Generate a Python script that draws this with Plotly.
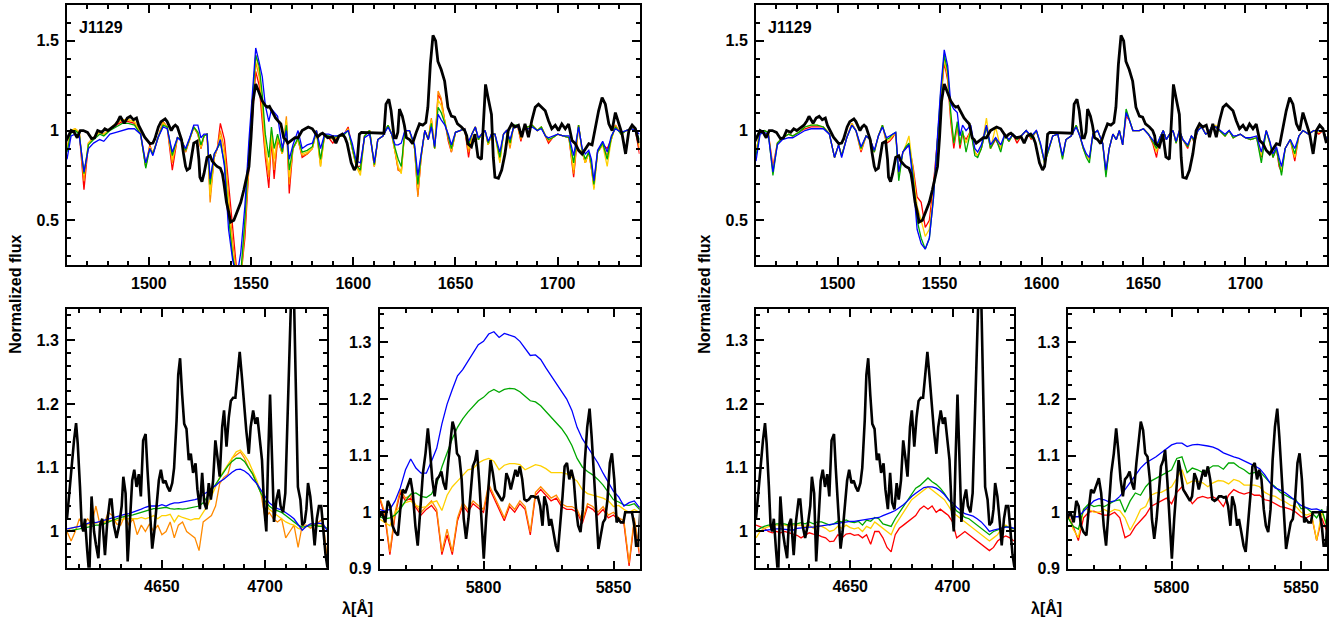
import plotly.graph_objects as go

W, H = 1344, 632

# ---------------- DATA ----------------
# --- UV panel (top), observed spectrum ---
TOP_OBS_WL = [
    1459.0, 1460.5, 1462, 1463.5, 1465, 1466.5, 1468, 1470, 1472, 1473.5,
    1475, 1477, 1478.5, 1480, 1482, 1483.5, 1485, 1486, 1487, 1488,
    1489.5, 1491, 1492.5, 1494, 1495, 1496.5, 1498, 1500.6, 1502, 1503,
    1504.7, 1506, 1507, 1508, 1509, 1510, 1511, 1512, 1513, 1514,
    1515, 1516, 1517, 1518, 1518.7, 1520, 1521, 1522, 1523.6, 1524.5,
    1525, 1526, 1527, 1528.5, 1530, 1531, 1532.5, 1533.4, 1535, 1536,
    1536.7, 1538, 1539, 1540, 1541.6, 1543, 1544, 1545, 1546.5, 1548,
    1549, 1550, 1551, 1552.3, 1553, 1554, 1555.5, 1557, 1558, 1559,
    1560.5, 1562, 1563.5, 1564.6, 1566, 1567, 1568, 1570, 1571.5, 1573,
    1575, 1576.5, 1578, 1580, 1581, 1582.6, 1584, 1585, 1587.5, 1590,
    1591.5, 1593, 1594.7, 1596, 1597, 1599, 1600.5, 1601.5, 1602, 1603,
    1604, 1615, 1616, 1617.4, 1618.5, 1620, 1621, 1621.8, 1622.6, 1624,
    1625, 1626, 1627.5, 1629, 1630.8, 1632.4, 1634, 1635.5, 1636.5, 1637.7,
    1639, 1640.3, 1641.4, 1643, 1644.7, 1645.5, 1646.3, 1648, 1649.6, 1651,
    1652.9, 1654.5, 1655.5, 1656, 1657.8, 1659.5, 1661, 1662.7, 1663.9, 1664.7,
    1666, 1667.6, 1668.5, 1669.3, 1671, 1672.6, 1674.2, 1675.8, 1677.5, 1679,
    1680.8, 1682.4, 1684, 1685.7, 1687.3, 1689, 1690.6, 1692.2, 1693.9, 1695.5,
    1697.1, 1698.8, 1700.4, 1702, 1703.7, 1705.3, 1707, 1708.6, 1710.2, 1711.9,
    1713.5, 1715.2, 1716.8, 1718.4, 1720, 1721.7, 1723.3, 1725, 1726.6, 1728.2,
    1729.9, 1731.5, 1733.2, 1734.8, 1736.4, 1738, 1739.7,
]
TOP_OBS_FLUX = [
    .93, .97, 1.0, .99, .96, 1.0, 1.0, .99, .955, .96,
    1.0, .99, 1.01, 1.0, 1.02, 1.03, 1.055, 1.08, 1.06, 1.04,
    1.07, 1.08, 1.06, 1.07, 1.03, 1.0, .963, .927, .93, .955,
    1.02, 1.05, 1.06, 1.065, 1.05, 1.02, 1.0, 1.02, 1.03, 1.02,
    .99, .95, .87, .80, .78, .79, .86, .93, .94, .84,
    .74, .715, .76, .85, .86, .83, .81, .80, .79, .76,
    .71, .60, .55, .49, .50, .54, .57, .60, .67, .74,
    .80, .96, 1.165, 1.26, 1.24, 1.21, 1.165, 1.14, 1.13, 1.135,
    1.10, 1.07, 1.05, 1.037, .96, .95, .93, .95, .96, .96,
    1.0, 1.01, 1.02, 1.01, .99, .965, .98, .985, .96, .965,
    .93, .97, .98, .96, .93, .82, .78, .80, .84, .98,
    .99, .985, 1.147, 1.175, 1.11, .96, .96, .99, 1.12, 1.08,
    1.03, .96, .95, .927, .99, 1.037, 1.03, 1.045, 1.13, 1.367,
    1.53, 1.50, 1.385, 1.34, 1.275, 1.2, 1.13, 1.08, 1.075, 1.037,
    1.02, 1.0, .97, .927, .91, .98, .853, .84, 1.11, 1.257,
    1.18, 1.09, .85, .74, .734, .78, .87, 1.0, 1.037, 1.02,
    1.03, .963, 1.037, .963, 1.055, 1.13, 1.147, 1.13, 1.11, 1.055,
    1.01, 1.03, 1.0, 1.037, 1.01, 1.037, .945, .927, .89, .87,
    .9, .927, .92, 1.02, 1.11, 1.183, 1.147, 1.037, 1.0, 1.10,
    1.037, .98, .87, 1.0, 1.03, 1.01, .93,
]

# --- UV panel, model wavelength grid ---
TOP_MODEL_WL = [
    1460, 1462, 1464, 1466, 1468.3, 1470.5, 1473, 1476, 1478, 1481,
    1484, 1487, 1490, 1493, 1496, 1498.5, 1500.5, 1502, 1504.5, 1507,
    1509, 1511.5, 1514, 1516, 1518, 1520, 1522, 1524, 1525.5, 1527,
    1528.5, 1530, 1532, 1533.5, 1535, 1537, 1539, 1541, 1543, 1545,
    1547, 1549, 1550.5, 1552.3, 1554, 1555.5, 1557, 1558.7, 1560, 1561.3,
    1563, 1565.3, 1567.3, 1568.7, 1570.5, 1573, 1575, 1577.5, 1580, 1582,
    1584, 1586, 1588, 1590, 1592.5, 1595, 1597.5, 1599.5, 1601.5, 1603.5,
    1605.5, 1608, 1610.3, 1612, 1614.5, 1617, 1618.8, 1620.5, 1622, 1623.5,
    1625.2, 1627.5, 1630, 1631.6, 1633.2, 1635, 1636.7, 1638.2, 1639.8, 1641.5,
    1643, 1644.8, 1646.5, 1648, 1650, 1652.5, 1654.5, 1656.4, 1658, 1659.7,
    1661.2, 1662.8, 1664.5, 1666, 1667.6, 1669.3, 1671.7, 1673.5, 1675, 1676.7,
    1678.5, 1680.5, 1682, 1683.5, 1685.5, 1687.5, 1690, 1692, 1694, 1695.5,
    1697.5, 1700, 1702.5, 1705.5, 1707.8, 1710.2, 1712, 1713.5, 1715.2, 1716.5,
    1717.7, 1719.5, 1722, 1724.2, 1726.2, 1728.2, 1731, 1733.5, 1736, 1738,
    1740,
]

# left half, UV models
TL_RED = [
    .90, 1.0, 1.0, .99, .67, .93, .96, .99, .98, 1.01,
    1.03, 1.05, 1.05, 1.04, .98, .80, .92, .87, .96, 1.05,
    1.02, .78, .96, .95, .88, .95, 1.02, .98, .90, .97,
    .98, .64, .85, .90, 1.04, .95, .70, .45, .22, .18,
    .40, .80, 1.05, 1.33, 1.25, 1.05, .85, .68, .95, .73,
    .95, .87, 1.05, .65, .90, .95, .85, .87, .90, 1.0,
    .82, .98, .96, .93, .97, .97, 1.02, .90, .80, .80,
    .97, 1.0, .80, .95, .97, 1.03, .98, .88, .78, .77,
    1.0, 1.0, .90, .64, .85, 1.0, .95, 1.06, .90, 1.20,
    1.17, 1.05, .94, .88, .99, 1.0, 1.01, .85, .98, 1.02,
    .95, .98, 1.0, .92, .98, .98, .85, .98, 1.0, .92,
    1.03, 1.02, .94, 1.02, 1.02, 1.03, 1.0, 1.02, .97, .93,
    .96, .98, .97, .96, .74, 1.03, .88, .82, .88, .78,
    .70, .88, .92, .90, .95, 1.03, .98, 1.0, 1.01, 1.0,
    .87,
]
TL_ORANGE = [
    .90, 1.0, 1.01, .99, .72, .93, .96, .99, .98, 1.01,
    1.04, 1.06, 1.06, 1.05, .98, .80, .91, .87, .96, 1.05,
    1.02, .82, .96, .95, .88, .95, 1.02, .98, .90, .97,
    .98, .60, .85, .90, 1.0, .90, .62, .38, .20, .18,
    .45, .85, 1.10, 1.38, 1.30, 1.10, .88, .74, .97, .78,
    .96, .87, 1.08, .70, .90, .95, .86, .87, .90, 1.0,
    .80, .98, .97, .95, .97, .97, 1.01, .90, .80, .77,
    .97, 1.0, .80, .95, .97, 1.03, .98, .88, .78, .78,
    1.0, 1.0, .90, .63, .85, 1.0, .95, 1.07, .90, 1.22,
    1.18, 1.05, .96, .88, .99, 1.0, 1.01, .88, .98, 1.02,
    .95, .98, 1.0, .92, .98, .98, .83, .98, 1.0, .90,
    1.03, 1.02, .95, 1.02, 1.02, 1.03, 1.0, 1.02, .97, .94,
    .96, .98, .97, .96, .76, 1.03, .88, .82, .88, .79,
    .68, .88, .92, .86, .95, 1.03, .98, 1.0, 1.01, 1.0,
    .90,
]
TL_YELLOW = [
    .90, 1.0, 1.01, .99, .75, .93, .96, .99, .98, 1.01,
    1.04, 1.06, 1.06, 1.05, .98, .81, .91, .87, .96, 1.04,
    1.02, .84, .96, .95, .89, .95, 1.02, .99, .91, .97,
    .98, .64, .86, .90, .97, .86, .58, .32, .19, .18,
    .48, .88, 1.12, 1.42, 1.33, 1.15, .92, .78, 1.0, .84,
    .97, .87, 1.06, .74, .90, .95, .87, .88, .90, 1.0,
    .80, .98, .97, .95, .97, .97, 1.01, .90, .80, .75,
    .97, 1.0, .80, .95, .97, 1.03, .98, .88, .80, .76,
    1.0, 1.0, .90, .68, .86, 1.0, .95, 1.06, .90, 1.17,
    1.14, 1.05, .96, .89, .99, 1.0, 1.01, .90, .98, 1.02,
    .95, .98, 1.0, .92, .98, .98, .82, .98, 1.0, .92,
    1.03, 1.02, .96, 1.02, 1.02, 1.03, 1.0, 1.02, .97, .95,
    .96, .98, .97, .96, .78, 1.03, .88, .82, .88, .79,
    .67, .88, .92, .80, .95, 1.02, .98, 1.0, 1.01, 1.0,
    .92,
]
TL_GREEN = [
    .88, .99, 1.0, .98, .76, .92, .95, .98, .97, 1.0,
    1.02, 1.04, 1.04, 1.03, .98, .79, .90, .87, .96, 1.03,
    1.02, .86, .96, .95, .89, .95, 1.02, .99, .92, .97,
    .98, .70, .87, .90, .93, .82, .52, .30, .18, .20,
    .50, .90, 1.15, 1.42, 1.36, 1.20, .98, .85, 1.02, .90,
    .98, .88, 1.03, .78, .90, .96, .88, .89, .91, 1.0,
    .84, .98, .97, .96, .97, .97, 1.0, .91, .81, .78,
    .97, 1.0, .81, .95, .97, 1.03, .98, .90, .84, .80,
    1.0, 1.0, .91, .70, .86, 1.0, .95, 1.04, .90, 1.13,
    1.10, 1.04, .97, .90, .99, 1.0, 1.01, .92, .98, 1.02,
    .95, .98, 1.0, .93, .98, .98, .85, .98, 1.0, .93,
    1.03, 1.03, .97, 1.02, 1.02, 1.03, 1.0, 1.02, .97, .95,
    .96, .98, .97, .96, .82, 1.03, .89, .84, .88, .81,
    .70, .88, .93, .84, .96, 1.02, .98, 1.0, 1.01, 1.0,
    .95,
]
TL_BLUE = [
    .84, .97, .98, .97, .77, .90, .93, .95, .94, .98,
    .99, 1.0, 1.01, 1.01, .98, .82, .90, .86, .96, 1.02,
    1.01, .88, .96, .94, .90, .96, 1.03, 1.03, .96, .98,
    .98, .73, .87, .90, .95, .80, .45, .28, .18, .32,
    .58, .95, 1.20, 1.46, 1.38, 1.30, 1.14, 1.05, 1.12, 1.10,
    1.08, .90, 1.0, .84, .92, 1.0, .90, .92, .93, 1.0,
    .90, .98, .98, .97, .97, .98, 1.0, .93, .83, .82,
    .96, .98, .82, .95, .97, 1.02, .98, .92, .92, .93,
    1.0, 1.0, .92, .75, .88, 1.0, .95, 1.02, .91, 1.09,
    1.06, 1.03, .98, .92, .99, 1.0, 1.01, .94, .98, 1.02,
    .96, .98, 1.0, .94, .98, .98, .88, .98, 1.0, .95,
    1.02, 1.02, .98, 1.01, 1.01, 1.02, 1.0, 1.01, .97, .96,
    .97, .98, .97, .97, .86, 1.02, .90, .87, .89, .84,
    .72, .89, .94, .88, .97, 1.01, .99, 1.0, 1.01, 1.0,
    .98,
]

# right half, UV models
TR_RED = [
    .88, 1.0, 1.0, .99, .80, .93, .96, .98, .97, .99,
    1.01, 1.02, 1.02, 1.02, .98, .85, .92, .86, .96, 1.04,
    1.0, .88, .97, .95, .88, .97, 1.03, .93, .94, .96,
    .99, .75, .88, .90, .92, .80, .63, .60, .46, .50,
    .70, .95, 1.15, 1.38, 1.28, 1.05, .90, 1.03, .90, .98,
    .95, 1.0, .88, .86, .90, 1.02, .90, .95, .90, .98,
    .94, .98, .93, .97, 1.0, .95, 1.0, .92, .82, .89,
    .97, .98, .85, .95, .97, 1.03, .97, .90, .86, .84,
    .98, 1.0, .93, .76, .90, .98, .95, 1.0, .92, 1.08,
    1.06, 1.0, 1.0, 1.0, 1.01, .98, .93, .85, .96, 1.0,
    .95, .98, 1.0, .93, 1.0, .95, .90, .97, .93, 1.0,
    1.03, .98, .99, 1.02, 1.02, 1.0, .97, 1.0, .96, .97,
    .98, .96, .95, .96, .85, 1.0, .93, .85, .90, .80,
    .77, .90, .95, .83, .97, 1.0, .98, 1.0, .98, 1.0,
    .95,
]
TR_YELLOW = [
    .88, 1.0, 1.0, .99, .78, .93, .96, .98, .97, .99,
    1.02, 1.03, 1.03, 1.02, .98, .85, .92, .86, .96, 1.04,
    1.0, .89, .97, .95, .88, .97, 1.03, .94, .95, .97,
    .99, .74, .88, .92, .97, .78, .58, .50, .41, .45,
    .65, .95, 1.17, 1.40, 1.30, 1.08, .93, 1.03, .92, .99,
    .93, 1.0, .88, .86, .90, 1.07, .90, 1.02, .90, .98,
    .94, .98, .95, .97, 1.0, .96, 1.0, .92, .82, .89,
    .97, .98, .85, .95, .97, 1.03, .97, .90, .86, .84,
    .98, 1.0, .93, .76, .90, .98, .95, 1.0, .92, 1.10,
    1.06, 1.0, 1.0, 1.0, 1.01, .98, .94, .88, .96, 1.0,
    .95, .98, 1.0, .93, 1.0, .95, .91, .97, .94, 1.0,
    1.03, .98, .99, 1.02, 1.03, 1.0, .97, 1.0, .96, .97,
    .98, .96, .95, .96, .86, 1.0, .93, .86, .90, .82,
    .77, .90, .95, .85, .97, 1.0, .98, 1.0, .99, 1.0,
    .95,
]
TR_GREEN = [
    .86, .99, 1.0, .99, .75, .93, .96, .98, .97, .99,
    1.02, 1.03, 1.03, 1.02, .98, .85, .92, .86, .96, 1.03,
    1.0, .90, .97, .95, .88, .97, 1.03, .95, .96, .98,
    .99, .72, .88, .91, .93, .75, .50, .40, .34, .40,
    .62, .95, 1.20, 1.42, 1.33, 1.10, .93, 1.05, .92, 1.0,
    .88, 1.0, .86, .85, .90, 1.02, .90, .96, .88, .98,
    .94, .98, .95, .97, 1.0, .96, 1.0, .92, .82, .89,
    .97, .98, .84, .95, .97, 1.03, .97, .90, .85, .82,
    .98, 1.0, .93, .74, .90, .98, .95, 1.0, .92, 1.12,
    1.07, 1.0, 1.0, 1.0, 1.01, .98, .94, .90, .96, 1.0,
    .95, .98, 1.0, .93, 1.0, .95, .91, .97, .94, 1.0,
    1.02, .98, .99, 1.02, 1.02, 1.0, .97, 1.0, .96, .97,
    .98, .96, .95, .96, .82, 1.0, .93, .85, .90, .82,
    .75, .90, .95, .87, .97, 1.0, .98, 1.0, 1.0, 1.0,
    .95,
]
TR_BLUE = [
    .83, .98, .99, .98, .77, .92, .95, .96, .96, .98,
    1.0, 1.01, 1.01, 1.01, .98, .85, .92, .85, .96, 1.03,
    1.0, .91, .97, .95, .89, .97, 1.02, .96, .97, .98,
    .99, .77, .88, .90, .92, .72, .45, .37, .34, .40,
    .62, .97, 1.22, 1.45, 1.36, 1.15, 1.12, 1.10, .97, 1.03,
    1.0, 1.03, .90, .88, .92, 1.03, .92, .96, .92, .98,
    .95, .98, .96, .97, 1.0, .97, 1.0, .93, .83, .90,
    .97, .98, .86, .95, .97, 1.02, .97, .91, .87, .85,
    .98, 1.0, .93, .78, .90, .98, .95, 1.0, .92, 1.10,
    1.06, 1.0, 1.0, 1.0, 1.01, .98, .95, .92, .96, 1.0,
    .95, .98, 1.0, .94, 1.0, .95, .92, .97, .95, 1.0,
    1.02, .98, .99, 1.02, 1.02, 1.0, .98, 1.0, .97, .97,
    .98, .96, .96, .97, .88, 1.0, .94, .87, .91, .85,
    .80, .90, .95, .90, .97, 1.0, .98, 1.0, 1.0, 1.0,
    .95,
]

# --- He II 4686 panel, observed ---
HE_OBS_WL = [
    4604.0, 4605.0, 4606.3, 4607.4, 4608.4, 4609.2, 4610.3, 4611.1, 4611.9, 4612.7,
    4613.8, 4614.8, 4615.9, 4617.1, 4618.0, 4619.2, 4620.0, 4621.1, 4622.4, 4623.5,
    4624.8, 4625.6, 4626.7, 4628.0, 4629.3, 4630.5, 4631.3, 4632.4, 4633.4, 4634.5,
    4635.6, 4636.6, 4637.7, 4638.8, 4639.8, 4640.9, 4642.1, 4643.0, 4644.2, 4645.3,
    4646.3, 4647.4, 4648.5, 4649.5, 4650.6, 4651.7, 4652.7, 4653.8, 4655.0, 4655.9,
    4657.1, 4657.9, 4658.8, 4659.8, 4660.8, 4661.9, 4663.0, 4664.0, 4665.1, 4666.3,
    4667.2, 4668.4, 4669.5, 4670.5, 4671.6, 4672.7, 4673.7, 4674.8, 4675.9, 4676.9,
    4678.0, 4679.2, 4680.1, 4681.3, 4682.4, 4683.4, 4684.5, 4685.6, 4686.6, 4687.7,
    4688.8, 4689.8, 4690.9, 4692.1, 4693.0, 4694.2, 4695.3, 4696.3, 4697.4, 4698.5,
    4699.5, 4700.6, 4701.4, 4702.4, 4703.4, 4704.3, 4705.5, 4706.6, 4707.5, 4708.7,
    4709.8, 4710.8, 4711.9, 4712.9, 4713.8, 4714.8, 4715.9, 4717.1, 4718.0, 4719.2,
    4720.0, 4720.8, 4721.9, 4722.9, 4724.0, 4725.1, 4726.1, 4727.2, 4728.4, 4729.3,
    4730.4,
]
HE_OBS_FLUX = [
    1.02, 1.06, 1.11, 1.143, 1.17, 1.138, 1.07, 1.01, 1.0, 1.02,
    .97, .93, 1.055, 1.0, .98, .958, 1.01, 1.02, .963, 1.015,
    1.05, 1.05, 1.01, .99, 1.01, 1.04, 1.086, 1.06, .953, 1.01,
    1.08, 1.097, 1.07, 1.09, 1.055, 1.143, 1.153, 1.097, 1.04, .973,
    1.0, 1.04, 1.08, 1.097, 1.076, 1.08, 1.07, 1.063, 1.076, 1.10,
    1.174, 1.246, 1.272, 1.215, 1.169, 1.161, 1.112, 1.122, 1.092, 1.107,
    1.066, 1.035, 1.092, 1.045, 1.035, 1.076, 1.05, 1.08, 1.143, 1.117,
    1.086, 1.164, 1.19, 1.133, 1.179, 1.205, 1.21, 1.21, 1.251, 1.282,
    1.241, 1.20, 1.158, 1.122, 1.164, 1.19, 1.169, 1.179, 1.143, 1.112,
    1.04, 1.0, 1.107, 1.215, 1.112, 1.015, 1.05, 1.066, 1.04, 1.03,
    1.06, 1.164, 1.267, 1.40, 1.40, 1.215, 1.07, 1.05, 1.01, 1.015,
    1.035, 1.076, 1.055, 1.02, .978, 1.02, 1.04, 1.04, 1.0, .963,
    .94,
]

# --- He II 4686 panel, model grid ---
HE_MODEL_WL = [
    4604, 4606, 4608, 4610, 4612, 4614, 4616, 4618,
    4620, 4622, 4624, 4626, 4628, 4630, 4632, 4634,
    4636, 4638, 4640, 4642, 4644, 4646, 4648, 4650,
    4652, 4654, 4656, 4658, 4660, 4662, 4664, 4666,
    4668, 4670, 4672, 4674, 4676, 4678, 4680, 4682,
    4684, 4686, 4688, 4690, 4692, 4694, 4696, 4698,
    4700, 4702, 4704, 4706, 4708, 4710, 4712, 4714,
    4716, 4718, 4720, 4722, 4724, 4726, 4728, 4730,
]
HL_ORANGE = [
    1.0, .985, 1.0, 1.02, 1.01, 1.02, 1.012, 1.04,
    1.01, 1.012, 1.03, 1.025, 1.012, 1.01, 1.025, 1.01,
    1.02, .995, 1.01, 1.0, 1.012, 1.0, 1.01, .995,
    1.0, 1.015, .99, 1.01, 1.015, 1.0, .995, .99,
    .97, 1.015, 1.02, 1.025, 1.04, 1.075, 1.085, 1.09,
    1.115, 1.12, 1.125, 1.115, 1.10, 1.09, 1.075, 1.06,
    1.02, 1.03, 1.02, 1.015, 1.02, .99, 1.0, 1.01,
    .975, 1.01, 1.01, 1.005, 1.01, 1.015, 1.02, .96,
]
HL_YELLOW = [
    1.0, 1.005, 1.007, 1.008, 1.01, 1.01, 1.012, 1.013,
    1.015, 1.015, 1.017, 1.017, 1.018, 1.018, 1.02, 1.02,
    1.02, 1.02, 1.022, 1.02, 1.022, 1.025, 1.02, 1.025,
    1.025, 1.027, 1.015, 1.025, 1.022, 1.02, 1.018, 1.02,
    1.02, 1.03, 1.04, 1.055, 1.07, 1.085, 1.095, 1.105,
    1.115, 1.125, 1.128, 1.12, 1.11, 1.095, 1.08, 1.06,
    1.045, 1.035, 1.03, 1.025, 1.02, 1.015, 1.012, 1.01,
    1.005, 1.003, 1.008, 1.012, 1.01, 1.01, 1.01, 1.005,
]
HL_GREEN = [
    1.0, 1.002, 1.003, 1.004, 1.005, 1.006, 1.008, 1.01,
    1.01, 1.012, 1.015, 1.018, 1.02, 1.022, 1.024, 1.025,
    1.026, 1.028, 1.03, 1.032, 1.035, 1.036, 1.036, 1.037,
    1.038, 1.036, 1.035, 1.036, 1.035, 1.036, 1.037, 1.038,
    1.04, 1.045, 1.055, 1.065, 1.075, 1.085, 1.095, 1.103,
    1.11, 1.115, 1.115, 1.11, 1.1, 1.09, 1.075, 1.06,
    1.048, 1.04, 1.035, 1.032, 1.03, 1.025, 1.02, 1.015,
    1.01, 1.007, 1.008, 1.01, 1.01, 1.008, 1.008, 1.005,
]
HL_BLUE = [
    1.004, 1.005, 1.006, 1.008, 1.01, 1.012, 1.015, 1.014,
    1.016, 1.018, 1.02, 1.022, 1.024, 1.026, 1.027, 1.028,
    1.03, 1.032, 1.035, 1.038, 1.04, 1.04, 1.04, 1.042,
    1.04, 1.043, 1.045, 1.045, 1.046, 1.047, 1.048, 1.05,
    1.052, 1.058, 1.062, 1.068, 1.072, 1.078, 1.082, 1.088,
    1.093, 1.097, 1.098, 1.095, 1.09, 1.082, 1.075, 1.065,
    1.055, 1.045, 1.04, 1.036, 1.034, 1.03, 1.025, 1.02,
    1.01, 1.002, 1.008, 1.012, 1.012, 1.013, 1.012, 1.002,
]
HR_RED = [
    1.01, 1.008, 1.005, 1.0, .998, 1.0, .998, 1.0,
    .998, .996, .994, .99, .994, .998, .996, .995,
    .992, .99, .984, .985, .995, .99, .996, .997,
    .994, .995, .99, .995, .98, 1.0, 1.0, .99,
    .975, .968, .995, 1.005, 1.01, 1.015, 1.02, 1.025,
    1.035, 1.04, 1.035, 1.04, 1.03, 1.035, 1.03, 1.025,
    1.015, .99, .995, 1.0, .995, .99, .985, .98,
    .975, .97, .975, .985, .99, .993, .99, .985,
]
HR_YELLOW = [
    .99, 1.0, 1.005, 1.008, 1.01, 1.01, 1.01, 1.01,
    1.008, 1.01, 1.01, 1.01, 1.008, 1.01, 1.005, 1.01,
    1.008, 1.005, 1.0, 1.002, 1.008, 1.005, 1.01, 1.006,
    1.004, 1.006, 1.0, 1.008, 1.005, 1.015, 1.01, 1.005,
    1.0, .995, 1.01, 1.02, 1.03, 1.04, 1.05, 1.055,
    1.06, 1.065, 1.07, 1.065, 1.06, 1.055, 1.05, 1.04,
    1.03, 1.025, 1.02, 1.015, 1.01, 1.005, 1.0, .995,
    .99, .985, .99, .995, 1.005, 1.01, 1.005, 1.0,
]
HR_GREEN = [
    1.0, 1.005, 1.008, 1.01, 1.01, 1.012, 1.012, 1.012,
    1.01, 1.012, 1.012, 1.014, 1.012, 1.015, 1.012, 1.015,
    1.015, 1.012, 1.01, 1.012, 1.016, 1.015, 1.018, 1.015,
    1.014, 1.016, 1.01, 1.018, 1.016, 1.022, 1.02, 1.012,
    1.01, 1.008, 1.02, 1.03, 1.04, 1.05, 1.06, 1.068,
    1.072, 1.078, 1.084, 1.078, 1.074, 1.068, 1.06, 1.05,
    1.04, 1.032, 1.028, 1.022, 1.02, 1.015, 1.01, 1.005,
    1.0, .995, 1.0, 1.002, 1.005, 1.008, 1.006, 1.004,
]
HR_BLUE = [
    1.0, 1.001, 1.002, 1.003, 1.003, 1.004, 1.004, 1.003,
    1.003, 1.002, 1.005, 1.006, 1.006, 1.007, 1.007, 1.008,
    1.009, 1.01, 1.012, 1.013, 1.014, 1.015, 1.016, 1.016,
    1.016, 1.017, 1.017, 1.018, 1.019, 1.02, 1.022, 1.025,
    1.027, 1.03, 1.033, 1.037, 1.042, 1.048, 1.055, 1.06,
    1.065, 1.069, 1.07, 1.07, 1.068, 1.064, 1.058, 1.05,
    1.045, 1.038, 1.033, 1.028, 1.026, 1.024, 1.02, 1.015,
    1.008, 1.0, 1.002, 1.004, 1.006, 1.007, 1.007, 1.005,
]

# --- C IV 5801/5812 panel, observed ---
CIV_OBS_WL = [
    5759.6, 5760.9, 5762.2, 5763.2, 5764.1, 5765.0, 5766.0, 5767.1, 5768.0, 5768.9,
    5769.9, 5770.9, 5771.9, 5772.8, 5773.8, 5774.7, 5775.8, 5776.7, 5777.7, 5778.6,
    5779.4, 5780.3, 5781.2, 5782.0, 5782.9, 5783.8, 5784.6, 5785.5, 5786.4, 5787.2,
    5788.1, 5789.0, 5789.8, 5790.7, 5791.6, 5792.4, 5793.3, 5794.2, 5795.0, 5795.9,
    5796.8, 5797.5, 5798.4, 5799.4, 5800.1, 5801.0, 5801.9, 5802.7, 5803.6, 5804.5,
    5805.3, 5806.2, 5807.1, 5807.9, 5808.8, 5809.7, 5810.5, 5811.4, 5812.3, 5813.1,
    5814.0, 5814.9, 5815.7, 5816.6, 5817.5, 5818.3, 5819.2, 5820.1, 5820.9, 5821.8,
    5822.7, 5823.4, 5824.4, 5825.3, 5826.0, 5826.9, 5827.8, 5828.6, 5829.5, 5830.4,
    5831.2, 5832.1, 5833.0, 5833.8, 5834.7, 5835.6, 5836.4, 5837.3, 5838.2, 5839.0,
    5839.9, 5840.8, 5841.6, 5842.5, 5843.4, 5844.2, 5845.1, 5846.0, 5846.8, 5847.7,
    5848.6, 5849.4, 5850.3, 5851.2, 5851.9, 5852.8, 5853.8, 5854.5, 5855.4, 5856.3,
    5857.1, 5858.0, 5858.7, 5859.6, 5860.4,
]
CIV_OBS_FLUX = [
    .988, 1.0, .982, 1.02, 1.011, .976, .965, .959, 1.005, 1.04,
    1.034, 1.046, 1.06, 1.034, .976, .941, 1.005, 1.069, 1.104, 1.148,
    1.11, 1.058, 1.028, 1.058, 1.063, 1.072, 1.052, 1.04, 1.087, 1.122,
    1.16, 1.145, 1.104, 1.098, 1.058, .988, .953, .988, 1.04, 1.081,
    1.092, 1.11, 1.052, .965, .918, .988, 1.046, 1.092, 1.069, 1.04,
    1.034, 1.028, 1.02, 1.028, 1.069, 1.058, 1.04, 1.058, 1.075, 1.063,
    1.081, 1.058, 1.023, 1.02, 1.023, 1.028, 1.028, 1.026, 1.027, 1.011,
    .976, 1.028, 1.011, .976, .988, .965, .941, .93, .976, 1.028,
    1.081, 1.087, 1.058, 1.075, 1.058, 1.005, .976, .965, 1.005, 1.092,
    1.151, 1.183, 1.133, 1.058, .982, .935, .959, .982, .988, 1.023,
    1.087, 1.104, 1.058, .982, .988, .982, .982, 1.0, 1.0, 1.0,
    1.0, .976, .941, .941, 1.011,
]

# --- C IV panel, model grid ---
CIV_MODEL_WL = [
    5760, 5762, 5764, 5766, 5768, 5770, 5772, 5774, 5776, 5778,
    5780, 5782, 5784, 5786, 5788, 5790, 5792, 5794, 5796, 5798,
    5800, 5802, 5804, 5806, 5808, 5810, 5812, 5814, 5816, 5818,
    5820, 5822, 5824, 5826, 5828, 5830, 5832, 5834, 5836, 5838,
    5840, 5842, 5844, 5846, 5848, 5850, 5852, 5854, 5856, 5858,
    5860,
]
CL_RED = [
    1.025, .995, .925, .995, 1.035, 1.02, 1.025, 1.008, .995, 1.005,
    1.012, 1.0, .925, .96, .925, .985, 1.012, 1.0, 1.015, 1.008,
    1.0, 1.045, 1.025, 1.005, .985, 1.01, 1.0, 1.015, 1.005, .96,
    1.03, 1.04, 1.03, 1.02, 1.025, 1.01, 1.005, 1.005, 1.0, .98,
    1.01, 1.005, .995, 1.005, .99, .995, .985, .98, .905, .985,
    .925,
]
CL_ORANGE = [
    1.028, 1.0, .93, 1.0, 1.04, 1.025, 1.03, 1.012, 1.0, 1.01,
    1.02, 1.005, .93, .97, .93, .99, 1.017, 1.005, 1.02, 1.012,
    1.005, 1.05, 1.03, 1.01, .99, 1.015, 1.005, 1.02, 1.01, .965,
    1.035, 1.045, 1.035, 1.025, 1.03, 1.015, 1.01, 1.01, 1.005, .985,
    1.015, 1.01, 1.0, 1.01, .995, 1.0, .99, .985, .91, .99,
    .93,
]
CL_YELLOW = [
    .988, .982, .976, 1.0, 1.01, 1.017, 1.02, 1.012, 1.008, 1.01,
    1.017, 1.02, 1.003, 1.03, 1.045, 1.055, 1.065, 1.075, 1.077, 1.087,
    1.092, 1.095, 1.09, 1.075, 1.083, 1.086, 1.086, 1.084, 1.075, 1.08,
    1.084, 1.082, 1.077, 1.07, 1.07, 1.07, 1.068, 1.062, 1.055, 1.04,
    1.033, 1.03, 1.027, 1.025, 1.02, 1.01, 1.012, 1.005, 1.0, 1.005,
    1.0,
]
CL_GREEN = [
    .993, .988, .99, .995, 1.005, 1.02, 1.032, 1.034, 1.028, 1.026,
    1.032, 1.05, 1.08, 1.105, 1.13, 1.15, 1.165, 1.177, 1.188, 1.197,
    1.203, 1.212, 1.217, 1.212, 1.217, 1.219, 1.218, 1.213, 1.205, 1.197,
    1.195, 1.188, 1.178, 1.168, 1.158, 1.148, 1.135, 1.118, 1.095, 1.08,
    1.072, 1.066, 1.058, 1.048, 1.035, 1.022, 1.018, 1.013, 1.012, 1.015,
    1.005,
]
CL_BLUE = [
    1.005, 1.002, 1.005, 1.02, 1.043, 1.075, 1.094, 1.078, 1.069, 1.069,
    1.09, 1.113, 1.156, 1.191, 1.217, 1.241, 1.252, 1.267, 1.281, 1.296,
    1.302, 1.315, 1.319, 1.309, 1.316, 1.313, 1.31, 1.302, 1.29, 1.277,
    1.278, 1.27, 1.255, 1.241, 1.229, 1.215, 1.2, 1.18, 1.15, 1.13,
    1.116, 1.101, 1.087, 1.069, 1.052, 1.037, 1.027, 1.011, 1.017, 1.02,
    1.008,
]
CR_RED = [
    .995, .975, .95, .99, 1.0, 1.002, .998, .995, .995, 1.0,
    .99, .955, .96, .975, .985, .995, 1.01, 1.015, 1.02, 1.025,
    1.015, 1.035, 1.045, 1.03, 1.015, 1.025, 1.028, 1.025, 1.027, 1.022,
    1.01, 1.03, 1.04, 1.035, 1.032, 1.035, 1.03, 1.03, 1.022, 1.02,
    1.015, 1.01, 1.008, 1.005, 1.0, .992, .99, .995, .95, .99,
    .965,
]
CR_YELLOW = [
    .995, .97, .955, 1.005, 1.005, 1.0, 1.0, 1.005, 1.0, 1.005,
    1.003, .99, .968, .985, 1.005, 1.01, 1.03, 1.034, 1.035, 1.04,
    1.045, 1.06, 1.075, 1.05, 1.055, 1.055, 1.052, 1.045, 1.052, 1.056,
    1.055, 1.05, 1.058, 1.055, 1.048, 1.048, 1.048, 1.045, 1.035, 1.03,
    1.028, 1.022, 1.018, 1.012, 1.01, 1.0, .995, .998, .95, 1.0,
    .975,
]
CR_GREEN = [
    .99, .975, .97, 1.005, 1.015, 1.01, 1.012, 1.01, 1.015, 1.02,
    1.022, 1.0, 1.02, 1.034, 1.03, 1.045, 1.055, 1.06, 1.066, 1.07,
    1.075, 1.095, 1.098, 1.07, 1.078, 1.075, 1.07, 1.076, 1.082, 1.082,
    1.076, 1.087, 1.087, 1.08, 1.075, 1.068, 1.07, 1.072, 1.062, 1.052,
    1.045, 1.035, 1.03, 1.025, 1.022, 1.006, 1.008, 1.0, .99, 1.005,
    .975,
]
CR_BLUE = [
    .997, .992, .992, 1.002, 1.011, 1.02, 1.024, 1.022, 1.018, 1.02,
    1.028, 1.04, 1.052, 1.065, 1.078, 1.087, 1.092, 1.098, 1.105, 1.112,
    1.119, 1.122, 1.122, 1.116, 1.119, 1.12, 1.119, 1.117, 1.115, 1.111,
    1.105, 1.101, 1.098, 1.095, 1.091, 1.087, 1.082, 1.077, 1.066, 1.052,
    1.043, 1.039, 1.034, 1.027, 1.02, 1.012, 1.008, 1.005, 1.006, 1.002,
    1.0,
]

# tick values / labels
TOP_X_TICKS = [1500, 1550, 1600, 1650, 1700]
TOP_Y_TICKS = [0.5, 1.0, 1.5]
TOP_Y_LABELS = ["0.5", "1", "1.5"]
HE_X_TICKS = [4650, 4700]
HE_Y_TICKS = [1.0, 1.1, 1.2, 1.3]
HE_Y_LABELS = ["1", "1.1", "1.2", "1.3"]
CIV_X_TICKS = [5800, 5850]
CIV_Y_TICKS = [0.9, 1.0, 1.1, 1.2, 1.3]
CIV_Y_LABELS = ["0.9", "1", "1.1", "1.2", "1.3"]

# ---------------- STYLE ----------------
C_RED, C_ORANGE, C_YELLOW = "#ff0000", "#ff8a00", "#ffd000"
C_GREEN, C_BLUE, C_BLACK = "#00a800", "#0000ff", "#000000"
FONT = dict(family="Liberation Sans, Arial, sans-serif", size=16, color="black", weight="bold")

# panel frames in pixels: (x0, x1, ytop, ybottom)
PANELS = {
    1: (67, 639.5, 5, 269),      # top left
    2: (67, 327, 313, 576),      # He II left
    3: (379.5, 639.5, 313, 577), # C IV left
    4: (756, 1327, 5, 269),      # top right
    5: (756, 1014, 313, 576),    # He II right
    6: (1068, 1327, 313, 577),   # C IV right
}

fig = go.Figure()


def add_line(k, x, y, color, width):
    sfx = "" if k == 1 else str(k)
    fig.add_trace(go.Scatter(x=x, y=y, mode="lines", xaxis="x" + sfx, yaxis="y" + sfx,
                             line=dict(color=color, width=width), hoverinfo="skip",
                             showlegend=False))


MW = 1.3
# top left
for ys, c in [(TL_RED, C_RED), (TL_ORANGE, C_ORANGE), (TL_YELLOW, C_YELLOW),
              (TL_GREEN, C_GREEN), (TL_BLUE, C_BLUE)]:
    add_line(1, TOP_MODEL_WL, ys, c, MW)
add_line(1, TOP_OBS_WL, TOP_OBS_FLUX, C_BLACK, 2.8)
# He II left
for ys, c in [(HL_ORANGE, C_ORANGE), (HL_YELLOW, C_YELLOW), (HL_GREEN, C_GREEN), (HL_BLUE, C_BLUE)]:
    add_line(2, HE_MODEL_WL, ys, c, MW)
add_line(2, HE_OBS_WL, HE_OBS_FLUX, C_BLACK, 2.6)
# C IV left
for ys, c in [(CL_RED, C_RED), (CL_ORANGE, C_ORANGE), (CL_YELLOW, C_YELLOW),
              (CL_GREEN, C_GREEN), (CL_BLUE, C_BLUE)]:
    add_line(3, CIV_MODEL_WL, ys, c, MW)
add_line(3, CIV_OBS_WL, CIV_OBS_FLUX, C_BLACK, 2.6)
# top right
for ys, c in [(TR_RED, C_RED), (TR_YELLOW, C_YELLOW), (TR_GREEN, C_GREEN), (TR_BLUE, C_BLUE)]:
    add_line(4, TOP_MODEL_WL, ys, c, MW)
add_line(4, TOP_OBS_WL, TOP_OBS_FLUX, C_BLACK, 2.8)
# He II right
for ys, c in [(HR_RED, C_RED), (HR_YELLOW, C_YELLOW), (HR_GREEN, C_GREEN), (HR_BLUE, C_BLUE)]:
    add_line(5, HE_MODEL_WL, ys, c, MW)
add_line(5, HE_OBS_WL, HE_OBS_FLUX, C_BLACK, 2.6)
# C IV right
for ys, c in [(CR_RED, C_RED), (CR_YELLOW, C_YELLOW), (CR_GREEN, C_GREEN), (CR_BLUE, C_BLUE)]:
    add_line(6, CIV_MODEL_WL, ys, c, MW)
add_line(6, CIV_OBS_WL, CIV_OBS_FLUX, C_BLACK, 2.6)


def base_axis():
    return dict(showline=True, linecolor="black", linewidth=2, mirror="allticks",
                ticks="inside", ticklen=8, tickwidth=1.5, tickcolor="black",
                showgrid=False, zeroline=False, tickfont=FONT, tickmode="array")


AX_SPEC = {
    1: ([1460, 1740], TOP_X_TICKS, 10, [0.25, 1.7], TOP_Y_TICKS, TOP_Y_LABELS, 0.1),
    2: ([4604, 4730], HE_X_TICKS, 10, [0.943, 1.35], HE_Y_TICKS, HE_Y_LABELS, 0.02),
    3: ([5760, 5860], CIV_X_TICKS, 10, [0.9, 1.36], CIV_Y_TICKS, CIV_Y_LABELS, 0.025),
}
AX_SPEC[4], AX_SPEC[5], AX_SPEC[6] = AX_SPEC[1], AX_SPEC[2], AX_SPEC[3]

layout_axes = {}
for k, (x0, x1, yt, yb) in PANELS.items():
    xr, xt, xminor, yr, yt_vals, yt_lab, yminor = AX_SPEC[k]
    sfx = "" if k == 1 else str(k)
    xa = base_axis()
    xa.update(domain=[x0 / W, x1 / W], range=xr, tickvals=xt, ticktext=[str(v) for v in xt],
              anchor="y" + sfx, ticklabelstandoff=3,
              minor=dict(dtick=xminor, tick0=0, ticks="inside", ticklen=4, tickwidth=1.5,
                         tickcolor="black", showgrid=False))
    ya = base_axis()
    ya.update(domain=[1 - yb / H, 1 - yt / H], range=yr, tickvals=yt_vals, ticktext=yt_lab,
              anchor="x" + sfx, ticklabelstandoff=3,
              minor=dict(dtick=yminor, tick0=0, ticks="inside", ticklen=4, tickwidth=1.5,
                         tickcolor="black", showgrid=False))
    layout_axes["xaxis" + sfx] = xa
    layout_axes["yaxis" + sfx] = ya

ann = []
for xpx in (77, 766):
    ann.append(dict(text="J1129", x=xpx / W, y=1 - 28 / H, xref="paper", yref="paper",
                    xanchor="left", yanchor="middle", showarrow=False, font=FONT))
for xpx in (16, 705):
    ann.append(dict(text="Normalized flux", x=xpx / W, y=1 - 299 / H, xref="paper", yref="paper",
                    xanchor="center", yanchor="middle", textangle=-90, showarrow=False, font=FONT))
for xpx in (357, 1046):
    ann.append(dict(text="λ[Å]", x=xpx / W, y=1 - 617 / H, xref="paper", yref="paper",
                    xanchor="center", yanchor="middle", showarrow=False, font=FONT))

fig.update_layout(width=W, height=H, margin=dict(l=0, r=0, t=0, b=0),
                  paper_bgcolor="white", plot_bgcolor="white", showlegend=False,
                  annotations=ann, **layout_axes)

fig.write_html("out.html", config={"displayModeBar": False},
               post_script="document.body.style.margin='0px';document.body.style.overflow='hidden';")
